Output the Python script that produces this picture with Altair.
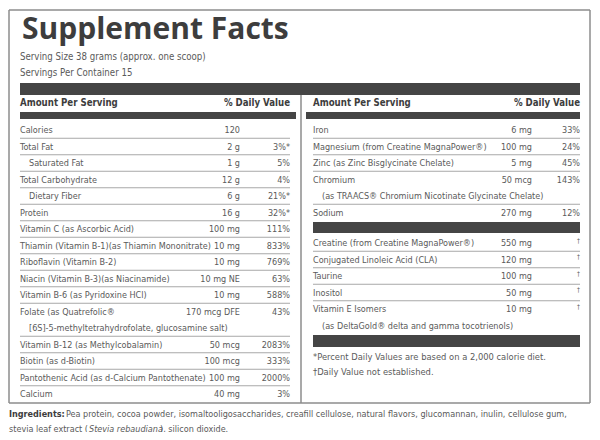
import altair as alt
import pandas as pd

# ---------------- data ----------------
title = "Supplement Facts"
serving_lines = ["Serving Size 38 grams (approx. one scoop)", "Servings Per Container 15"]
header_amount = "Amount Per Serving"
header_dv = "% Daily Value"

left_names = ["Calories", "Total Fat", "Saturated Fat", "Total Carbohydrate", "Dietary Fiber",
              "Protein", "Vitamin C (as Ascorbic Acid)",
              "Thiamin (Vitamin B-1)(as Thiamin Mononitrate)", "Riboflavin (Vitamin B-2)",
              "Niacin (Vitamin B-3)(as Niacinamide)", "Vitamin B-6 (as Pyridoxine HCl)",
              "Folate (as Quatrefolic\u00ae",
              "[6S]-5-methyltetrahydrofolate, glucosamine salt)",
              "Vitamin B-12  (as Methylcobalamin)", "Biotin (as d-Biotin)",
              "Pantothenic Acid (as d-Calcium Pantothenate)", "Calcium"]
left_amounts = ["120", "2 g", "1 g", "12 g", "6 g", "16 g", "100 mg", "10 mg", "10 mg",
                "10 mg NE", "10  mg", "170 mcg DFE", "", "50 mcg", "100 mcg", "100 mg", "40 mg"]
left_dv = ["", "3%*", "5%", "4%", "21%*", "32%*", "111%", "833%", "769%", "63%", "588%",
           "43%", "", "2083%", "333%", "2000%", "3%"]
left_indent = [0, 0, 1, 0, 1, 0, 0, 0, 0, 0, 0, 0, 1, 0, 0, 0, 0]
left_continues = [0, 0, 0, 0, 0, 0, 0, 0, 0, 0, 0, 1, 0, 0, 0, 0, 0]

right_top_names = ["Iron", "Magnesium (from Creatine MagnaPower\u00ae)",
                   "Zinc (as Zinc Bisglycinate Chelate)", "Chromium",
                   "(as TRAACS\u00ae Chromium Nicotinate Glycinate Chelate)", "Sodium"]
right_top_amounts = ["6 mg", "100 mg", "5 mg", "50 mcg", "", "270 mg"]
right_top_dv = ["33%", "24%", "45%", "143%", "", "12%"]
right_top_indent = [0, 0, 0, 0, 1, 0]
right_top_continues = [0, 0, 0, 1, 0, 0]

right_bot_names = ["Creatine (from Creatine MagnaPower\u00ae)", "Conjugated Linoleic Acid (CLA)",
                   "Taurine", "Inositol", "Vitamin E Isomers",
                   "(as DeltaGold\u00ae delta and gamma tocotrienols)"]
right_bot_amounts = ["550 mg", "120 mg", "100 mg", "50 mg", "10 mg", ""]
right_bot_dv = ["\u2020", "\u2020", "\u2020", "\u2020", "\u2020", ""]
right_bot_indent = [0, 0, 0, 0, 0, 1]
right_bot_continues = [0, 0, 0, 0, 1, 0]

footnotes = ["*Percent Daily Values are based on a 2,000 calorie diet.",
             "\u2020Daily Value not established."]

ingredients_label = "Ingredients:"
ingredients_line1 = ("Pea protein, cocoa powder, isomaltooligosaccharides, creafill cellulose, "
                     "natural flavors, glucomannan, inulin, cellulose gum,")
ingredients_line2 = ["stevia leaf extract (", "Stevia rebaudiana", "), silicon dioxide."]

# ---------------- layout ----------------
BODY = "'DejaVu Sans Condensed', 'DejaVu Sans', sans-serif"
TITLE_FONT = "'Open Sans', 'DejaVu Sans', sans-serif"
GRAY = "#5a5a5a"
DARK = "#3d3d3d"
BAR = "#454545"
LINE = "#a8a8a8"
BORDER = "#8c8c8c"
BODY_SIZE = 9.0
HDR_SIZE = 9.6

PITCH = 16.5
L_NAME, L_AMT, L_DV, L_END = 20, 240, 290, 290
R_NAME, R_AMT, R_DV, R_END = 313, 532, 580, 580
TOP_ROW = 130
RB_ROW = 243
INDENT = 9

X = alt.X("x:Q", scale=alt.Scale(domain=[8, 592], nice=False, zero=False), axis=None)
Y = alt.Y("y:Q", scale=alt.Scale(domain=[8, 432], nice=False, zero=False, reverse=True), axis=None)


def section(names, amounts, dvs, indents, conts, x_name, x_amt, x_dv, x_end, y0):
    rows, lines = [], []
    for i, (n, a, d, ind, c) in enumerate(zip(names, amounts, dvs, indents, conts)):
        y = y0 + PITCH * i
        rows.append({"name": n, "amt": a, "dv": d, "xn": x_name + INDENT * ind,
                     "xa": x_amt, "xd": x_dv, "y": y})
        if not c and i < len(names) - 1:
            lines.append({"x": x_name, "x2": x_end, "y": y + PITCH / 2, "y2": y + PITCH / 2})
    return rows, lines


lr, ll = section(left_names, left_amounts, left_dv, left_indent, left_continues,
                 L_NAME, L_AMT, L_DV, L_END, TOP_ROW)
rt, rtl = section(right_top_names, right_top_amounts, right_top_dv, right_top_indent,
                  right_top_continues, R_NAME, R_AMT, R_DV, R_END, TOP_ROW)
rb, rbl = section(right_bot_names, right_bot_amounts, right_bot_dv, right_bot_indent,
                  right_bot_continues, R_NAME, R_AMT, R_DV, R_END, RB_ROW)
rows = pd.DataFrame(lr + rt + rb)
lines = pd.DataFrame(ll + rtl + rbl)

names_df = pd.DataFrame({"x": rows["xn"], "y": rows["y"], "text": rows["name"]})
amt_df = pd.DataFrame({"x": rows["xa"], "y": rows["y"], "text": rows["amt"]})
dv_mask = rows["dv"] != "\u2020"
dv_df = pd.DataFrame({"x": rows["xd"][dv_mask], "y": rows["y"][dv_mask], "text": rows["dv"][dv_mask]})
dag_df = pd.DataFrame({"x": rows["xd"][~dv_mask], "y": rows["y"][~dv_mask] - 2.5,
                       "text": rows["dv"][~dv_mask]})


def text_layer(df, align="left", size=BODY_SIZE, weight="normal", font=BODY, color=GRAY,
               style="normal", baseline="middle"):
    return alt.Chart(df).mark_text(align=align, baseline=baseline, fontSize=size,
                                   fontWeight=weight, font=font, color=color,
                                   fontStyle=style).encode(x=X, y=Y, text="text:N")


def rule_layer(df, color, width):
    return alt.Chart(df).mark_rule(color=color, strokeWidth=width).encode(
        x=X, x2="x2:Q", y=Y, y2="y2:Q")


box_df = pd.DataFrame([
    {"x": 9, "x2": 590, "y": 10, "y2": 10},
    {"x": 9, "x2": 590, "y": 403, "y2": 403},
    {"x": 9, "x2": 9, "y": 10, "y2": 403},
    {"x": 590, "x2": 590, "y": 10, "y2": 403},
    {"x": 301, "x2": 301, "y": 83, "y2": 403},
])
box = rule_layer(box_df, BORDER, 1.5)

bars_df = pd.DataFrame([
    {"x": 20, "x2": 580, "y": 83, "y2": 95},
    {"x": 20, "x2": 296, "y": 112, "y2": 119},
    {"x": 306, "x2": 580, "y": 112, "y2": 119},
    {"x": 313, "x2": 580, "y": 222, "y2": 233},
    {"x": 313, "x2": 580, "y": 335, "y2": 347},
])
bars = alt.Chart(bars_df).mark_rect(color=BAR).encode(x=X, x2="x2:Q", y=Y, y2="y2:Q")

rules = rule_layer(lines, LINE, 1)

title_l = text_layer(pd.DataFrame([{"x": 22, "y": 38.5, "text": title}]), size=30, weight="bold",
                     font=TITLE_FONT, color=DARK, baseline="alphabetic")
serving_l = text_layer(pd.DataFrame({"x": [20, 20], "y": [57, 73], "text": serving_lines}),
                       size=9.6)

hdr_left = text_layer(pd.DataFrame({"x": [L_NAME, R_NAME], "y": [103, 103],
                                    "text": [header_amount, header_amount]}),
                      size=HDR_SIZE, weight="bold", color=DARK)
hdr_right = text_layer(pd.DataFrame({"x": [L_DV, R_DV], "y": [103, 103],
                                     "text": [header_dv, header_dv]}),
                       align="right", size=HDR_SIZE, weight="bold", color=DARK)

names_l = text_layer(names_df)
amt_l = text_layer(amt_df, align="right")
dv_l = text_layer(dv_df, align="right")
dag_l = text_layer(dag_df, align="right", size=6.5)

foot_l = text_layer(pd.DataFrame({"x": [R_NAME, R_NAME], "y": [357, 372], "text": footnotes}),
                    size=9.3)

ing_b = text_layer(pd.DataFrame([{"x": 9, "y": 414, "text": ingredients_label}]),
                   weight="bold", color=DARK)
ing_1 = text_layer(pd.DataFrame([{"x": 66, "y": 414, "text": ingredients_line1}]))
ing_2a = text_layer(pd.DataFrame([{"x": 9, "y": 428.5, "text": ingredients_line2[0]}]))
ing_2b = text_layer(pd.DataFrame([{"x": 89, "y": 428.5, "text": ingredients_line2[1]}]),
                    style="italic")
ing_2c = text_layer(pd.DataFrame([{"x": 160, "y": 428.5, "text": ingredients_line2[2]}]))

chart = alt.layer(
    box, bars, rules, title_l, serving_l, hdr_left, hdr_right,
    names_l, amt_l, dv_l, dag_l, foot_l, ing_b, ing_1, ing_2a, ing_2b, ing_2c
).properties(width=584, height=424, background="white", padding=0,
             autosize=alt.AutoSizeParams(type="none")
).configure_view(stroke=None)

chart.save("out.html", embed_options={"renderer": "svg", "actions": False})
